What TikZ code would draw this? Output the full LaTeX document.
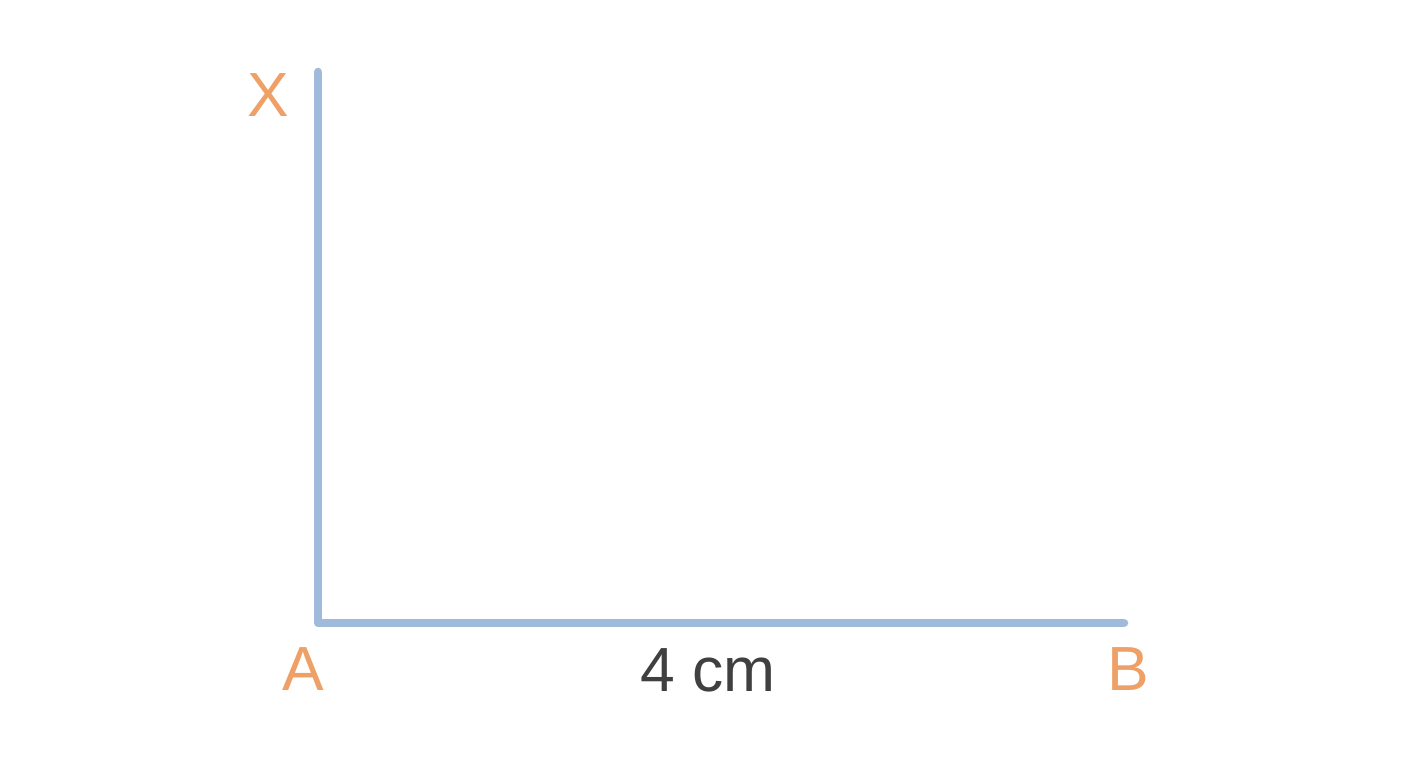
\documentclass[tikz,border=0pt]{standalone}
\usepackage{fontspec}
\setmainfont{Liberation Sans}
\definecolor{segblue}{HTML}{A0BADC}
\definecolor{ptorange}{HTML}{EEA066}
\definecolor{lentext}{HTML}{404040}
\begin{document}
\begin{tikzpicture}[
  seg/.style={draw=segblue, line width=0.17cm, line cap=round, line join=round},
  pt/.style={text=ptorange, font=\fontsize{35.5}{38}\selectfont, inner sep=0pt},
  len/.style={text=lentext, font=\fontsize{35.5}{38}\selectfont, inner sep=0pt}]
  \useasboundingbox (0,0) rectangle (28.16,15.36);

  \coordinate (a) at (6.36,2.9);
  \coordinate (x) at (6.36,13.92);
  \coordinate (b) at (22.48,2.9);

  \node[pt] (xl) at (5.36,13.46){X};
  \node[pt] (al) at (6.06,1.98){A};
  \node[len] (ab) at (14.16,1.96){4 cm};
  \node[pt] (bl) at (22.56,1.98){B};

  \draw[seg] (x) -- (a) -- (b);

\end{tikzpicture}
\end{document}
